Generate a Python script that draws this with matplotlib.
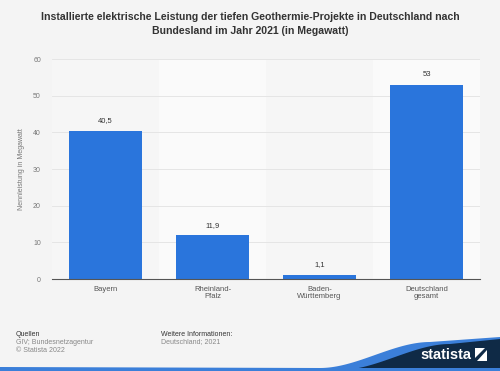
import numpy as np
import matplotlib as mpl
mpl.use("Agg")
import matplotlib.pyplot as plt
from matplotlib.patches import Polygon, Rectangle

categories = ["Bayern", "Rheinland-\nPfalz", "Baden-\nWürttemberg", "Deutschland\ngesamt"]
values = [40.5, 11.9, 1.1, 53]
value_labels = ["40,5", "11,9", "1,1", "53"]
y_ticks = [0, 10, 20, 30, 40, 50, 60]

title = ("Installierte elektrische Leistung der tiefen Geothermie-Projekte in Deutschland nach\n"
         "Bundesland im Jahr 2021 (in Megawatt)")

bg = "#f4f4f4"
bar_color = "#2a75dc"

plt.rcParams["font.family"] = ["Liberation Sans", "DejaVu Sans"]

fig = plt.figure(figsize=(5, 3.71), dpi=100, facecolor=bg)
ax = fig.add_axes([52 / 500, 92 / 371, 428 / 500, 220 / 371])
ax.set_facecolor(bg)

x = np.arange(len(categories))
# alternating column bands
for i in x:
    ax.axvspan(i - 0.5, i + 0.5, color="#fafafa" if i % 2 else "#f6f6f6", zorder=0, lw=0)

ax.bar(x, values, width=0.68, color=bar_color, zorder=3)
for xi, v, lab in zip(x, values, value_labels):
    ax.text(xi, v + 1.8, lab, ha="center", va="bottom", fontsize=5.5, color="#333333")

ax.set_xlim(-0.5, len(categories) - 0.5)
ax.set_ylim(0, 60)
ax.set_yticks(y_ticks)
ax.set_yticklabels([str(t) for t in y_ticks], fontsize=5, color="#777777")
ax.set_xticks(x)
ax.set_xticklabels(categories, fontsize=5.5, color="#555555", linespacing=1.1)
ax.tick_params(axis="both", length=0, pad=8)
ax.tick_params(axis="x", pad=5)
ax.grid(axis="y", color="#e2e2e2", lw=0.6, zorder=1)
for s in ["top", "right", "left"]:
    ax.spines[s].set_visible(False)
ax.spines["bottom"].set_color("#555555")
ax.spines["bottom"].set_linewidth(0.8)
ax.spines["bottom"].set_zorder(4)
ax.set_ylabel("Nennleistung in Megawatt", fontsize=5, color="#777777", labelpad=6)

fig.text(0.5, 1 - 24 / 371, title, ha="center", va="center", fontsize=7.6,
         fontweight="bold", color="#333333", linespacing=1.6)

# footer
fig.text(16 / 500, 1 - 334 / 371, "Quellen", fontsize=5, color="#333333", va="center")
fig.text(16 / 500, 1 - 342 / 371, "GIV; Bundesnetzagentur", fontsize=5, color="#888888", va="center")
fig.text(16 / 500, 1 - 350 / 371, "© Statista 2022", fontsize=5, color="#888888", va="center")
fig.text(161 / 500, 1 - 334 / 371, "Weitere Informationen:", fontsize=5, color="#333333", va="center")
fig.text(161 / 500, 1 - 342 / 371, "Deutschland; 2021", fontsize=5, color="#888888", va="center")

# statista logo area
fax = fig.add_axes([0, 0, 1, 1], zorder=-1)
fax.set_xlim(0, 500)
fax.set_ylim(371, 0)
fax.axis("off")
t = np.linspace(0, 1, 60)
wave_x = 330 + 110 * t
wave_y = 371 - 4 - 26 * (3 * t ** 2 - 2 * t ** 3)
blue = list(zip(np.r_[wave_x - 10, 500, 500, 0, 0], np.r_[wave_y + 1, 337, 371, 371, 367]))
fax.add_patch(Polygon(blue, closed=True, color="#3b7fd9", lw=0))
navy = list(zip(np.r_[wave_x + 10, 500, 500], np.r_[wave_y + 3, 339, 369]))
fax.add_patch(Polygon(navy + [(330, 369)], closed=True, color="#0f2a46", lw=0))
fax.add_patch(Rectangle((0, 368), 500, 3, color="#3b7fd9", lw=0))
fig.text(446 / 500, 1 - 355 / 371, "statista", fontsize=10.5, fontweight="bold",
         color="white", ha="center", va="center")
fax.add_patch(Polygon([(475, 348), (485, 348), (475, 358)], closed=True, color="white", lw=0))
fax.add_patch(Polygon([(487, 350), (487, 361), (477, 361)], closed=True, color="white", lw=0))

fig.savefig("out.png", dpi=100, facecolor=bg)
